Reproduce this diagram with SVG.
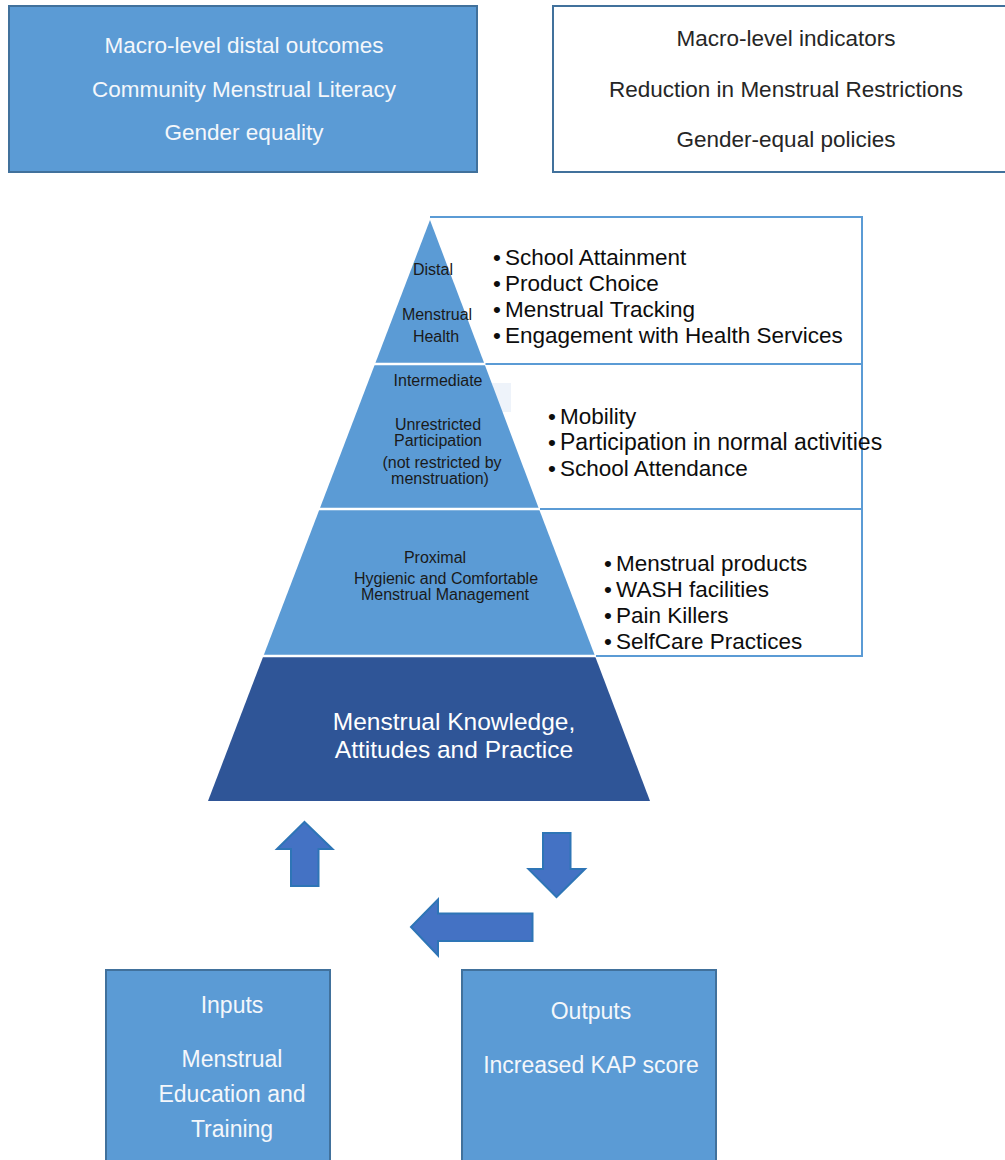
<svg xmlns="http://www.w3.org/2000/svg" width="1005" height="1160" viewBox="0 0 1005 1160">
  <style>
    text { font-family: "Liberation Sans", Arial, sans-serif; text-anchor: middle; }
    .box-fill { fill: #5B9BD5; stroke: #41719C; stroke-width: 2; }
    .box-plain { fill: #FFFFFF; stroke: #41719C; stroke-width: 2; }
    .light { fill: #F4F7FB; font-size: 22.5px; }
    .dark { fill: #262626; font-size: 22.5px; }
    .tier { fill: #5B9BD5; }
    .base { fill: #2F5597; }
    .tier-label { fill: #1A1A1A; font-size: 16px; }
    .base-label { fill: #FFFFFF; font-size: 24.5px; }
    .sep { stroke: #FFFFFF; stroke-width: 2.5; }
    .frame { fill: none; stroke: #5B9BD5; stroke-width: 2; }
    .bullets { fill: #0D0D0D; font-size: 22.5px; text-anchor: start; }
    .arrow { fill: #4472C4; stroke: #2E75B6; stroke-width: 2; stroke-linejoin: miter; }
  </style>

  <rect width="1005" height="1160" fill="#FFFFFF"/>

  <!-- Macro-level outcomes -->
  <g id="macro-outcomes">
    <rect class="box-fill" x="9" y="6" width="468" height="166"/>
    <text class="light" x="244" y="53">Macro-level distal outcomes</text>
    <text class="light" x="244" y="97">Community Menstrual Literacy</text>
    <text class="light" x="244" y="140">Gender equality</text>
  </g>

  <!-- Macro-level indicators -->
  <g id="macro-indicators">
    <rect class="box-plain" x="553" y="6" width="470" height="166"/>
    <text class="dark" x="786" y="46">Macro-level indicators</text>
    <text class="dark" x="786" y="97">Reduction in Menstrual Restrictions</text>
    <text class="dark" x="786" y="147">Gender-equal policies</text>
  </g>

  <!-- Indicator frame beside the pyramid -->
  <g id="indicator-frame">
    <polyline class="frame" points="430,217 862,217 862,656 595,656"/>
    <line class="frame" x1="485" y1="364" x2="862" y2="364"/>
    <line class="frame" x1="539" y1="509" x2="862" y2="509"/>
    <rect x="485" y="383" width="26" height="29" fill="#EEF3FA"/>
  </g>

  <!-- Pyramid tiers -->
  <g id="tier-distal">
    <polygon class="tier" points="430,220 484.5,364 375,364"/>
    <text class="tier-label" x="433" y="275">Distal</text>
    <text class="tier-label" x="437" y="320">Menstrual</text>
    <text class="tier-label" x="436" y="342">Health</text>
    <text class="bullets"><tspan x="493" y="265">•</tspan><tspan x="505" y="265">School Attainment</tspan></text>
    <text class="bullets"><tspan x="493" y="291">•</tspan><tspan x="505" y="291">Product Choice</tspan></text>
    <text class="bullets"><tspan x="493" y="317">•</tspan><tspan x="505" y="317">Menstrual Tracking</tspan></text>
    <text class="bullets"><tspan x="493" y="343">•</tspan><tspan x="505" y="343">Engagement with Health Services</tspan></text>
  </g>

  <g id="tier-intermediate">
    <polygon class="tier" points="375,364 484.5,364 539,509 319.6,509"/>
    <text class="tier-label" x="438" y="386">Intermediate</text>
    <text class="tier-label" x="438" y="430">Unrestricted</text>
    <text class="tier-label" x="438" y="446">Participation</text>
    <text class="tier-label" x="442" y="468">(not restricted by</text>
    <text class="tier-label" x="440" y="484">menstruation)</text>
    <text class="bullets"><tspan x="548" y="424">•</tspan><tspan x="560" y="424">Mobility</tspan></text>
    <text class="bullets"><tspan x="548" y="450">•</tspan><tspan x="560" y="450" style="font-size:23px">Participation in normal activities</tspan></text>
    <text class="bullets"><tspan x="548" y="476">•</tspan><tspan x="560" y="476">School Attendance</tspan></text>
  </g>

  <g id="tier-proximal">
    <polygon class="tier" points="319.6,509 539,509 595,656 263.4,656"/>
    <text class="tier-label" x="435" y="563">Proximal</text>
    <text class="tier-label" x="446" y="584">Hygienic and Comfortable</text>
    <text class="tier-label" x="445" y="600">Menstrual Management</text>
    <text class="bullets"><tspan x="604" y="571">•</tspan><tspan x="616" y="571">Menstrual products</tspan></text>
    <text class="bullets"><tspan x="604" y="597">•</tspan><tspan x="616" y="597">WASH facilities</tspan></text>
    <text class="bullets"><tspan x="604" y="623">•</tspan><tspan x="616" y="623">Pain Killers</tspan></text>
    <text class="bullets"><tspan x="604" y="649">•</tspan><tspan x="616" y="649">SelfCare Practices</tspan></text>
  </g>

  <g id="tier-kap">
    <polygon class="base" points="263.4,656 595,656 650,801 208,801"/>
    <text class="base-label" x="454" y="730">Menstrual Knowledge,</text>
    <text class="base-label" x="454" y="758">Attitudes and Practice</text>
  </g>

  <!-- White separators between tiers -->
  <g id="tier-separators">
    <line class="sep" x1="374" y1="364" x2="485.5" y2="364"/>
    <line class="sep" x1="318.6" y1="509" x2="540" y2="509"/>
    <line class="sep" x1="262.4" y1="656" x2="596" y2="656"/>
  </g>

  <!-- Inputs / outputs -->
  <g id="inputs">
    <rect class="box-fill" x="106" y="970" width="224" height="200"/>
    <text class="light" style="font-size:23px" x="232" y="1013">Inputs</text>
    <text class="light" style="font-size:23px" x="232" y="1067">Menstrual</text>
    <text class="light" style="font-size:23px" x="232" y="1102">Education and</text>
    <text class="light" style="font-size:23px" x="232" y="1137">Training</text>
  </g>

  <g id="outputs">
    <rect class="box-fill" x="462" y="970" width="254" height="200"/>
    <text class="light" style="font-size:23px" x="591" y="1019">Outputs</text>
    <text class="light" style="font-size:23px" x="591" y="1073">Increased KAP score</text>
  </g>

  <!-- Cycle arrows -->
  <g id="connectors">
    <polygon class="arrow" points="304.5,822 332.5,849 318.5,849 318.5,886 291,886 291,849 277,849"/>
    <polygon class="arrow" points="543,833 570.5,833 570.5,869 585,869 556.5,897 528.5,869 543,869"/>
    <polygon class="arrow" points="411,927 438,899.5 438,913.5 532.5,913.5 532.5,941 438,941 438,955.5"/>
  </g>
</svg>
